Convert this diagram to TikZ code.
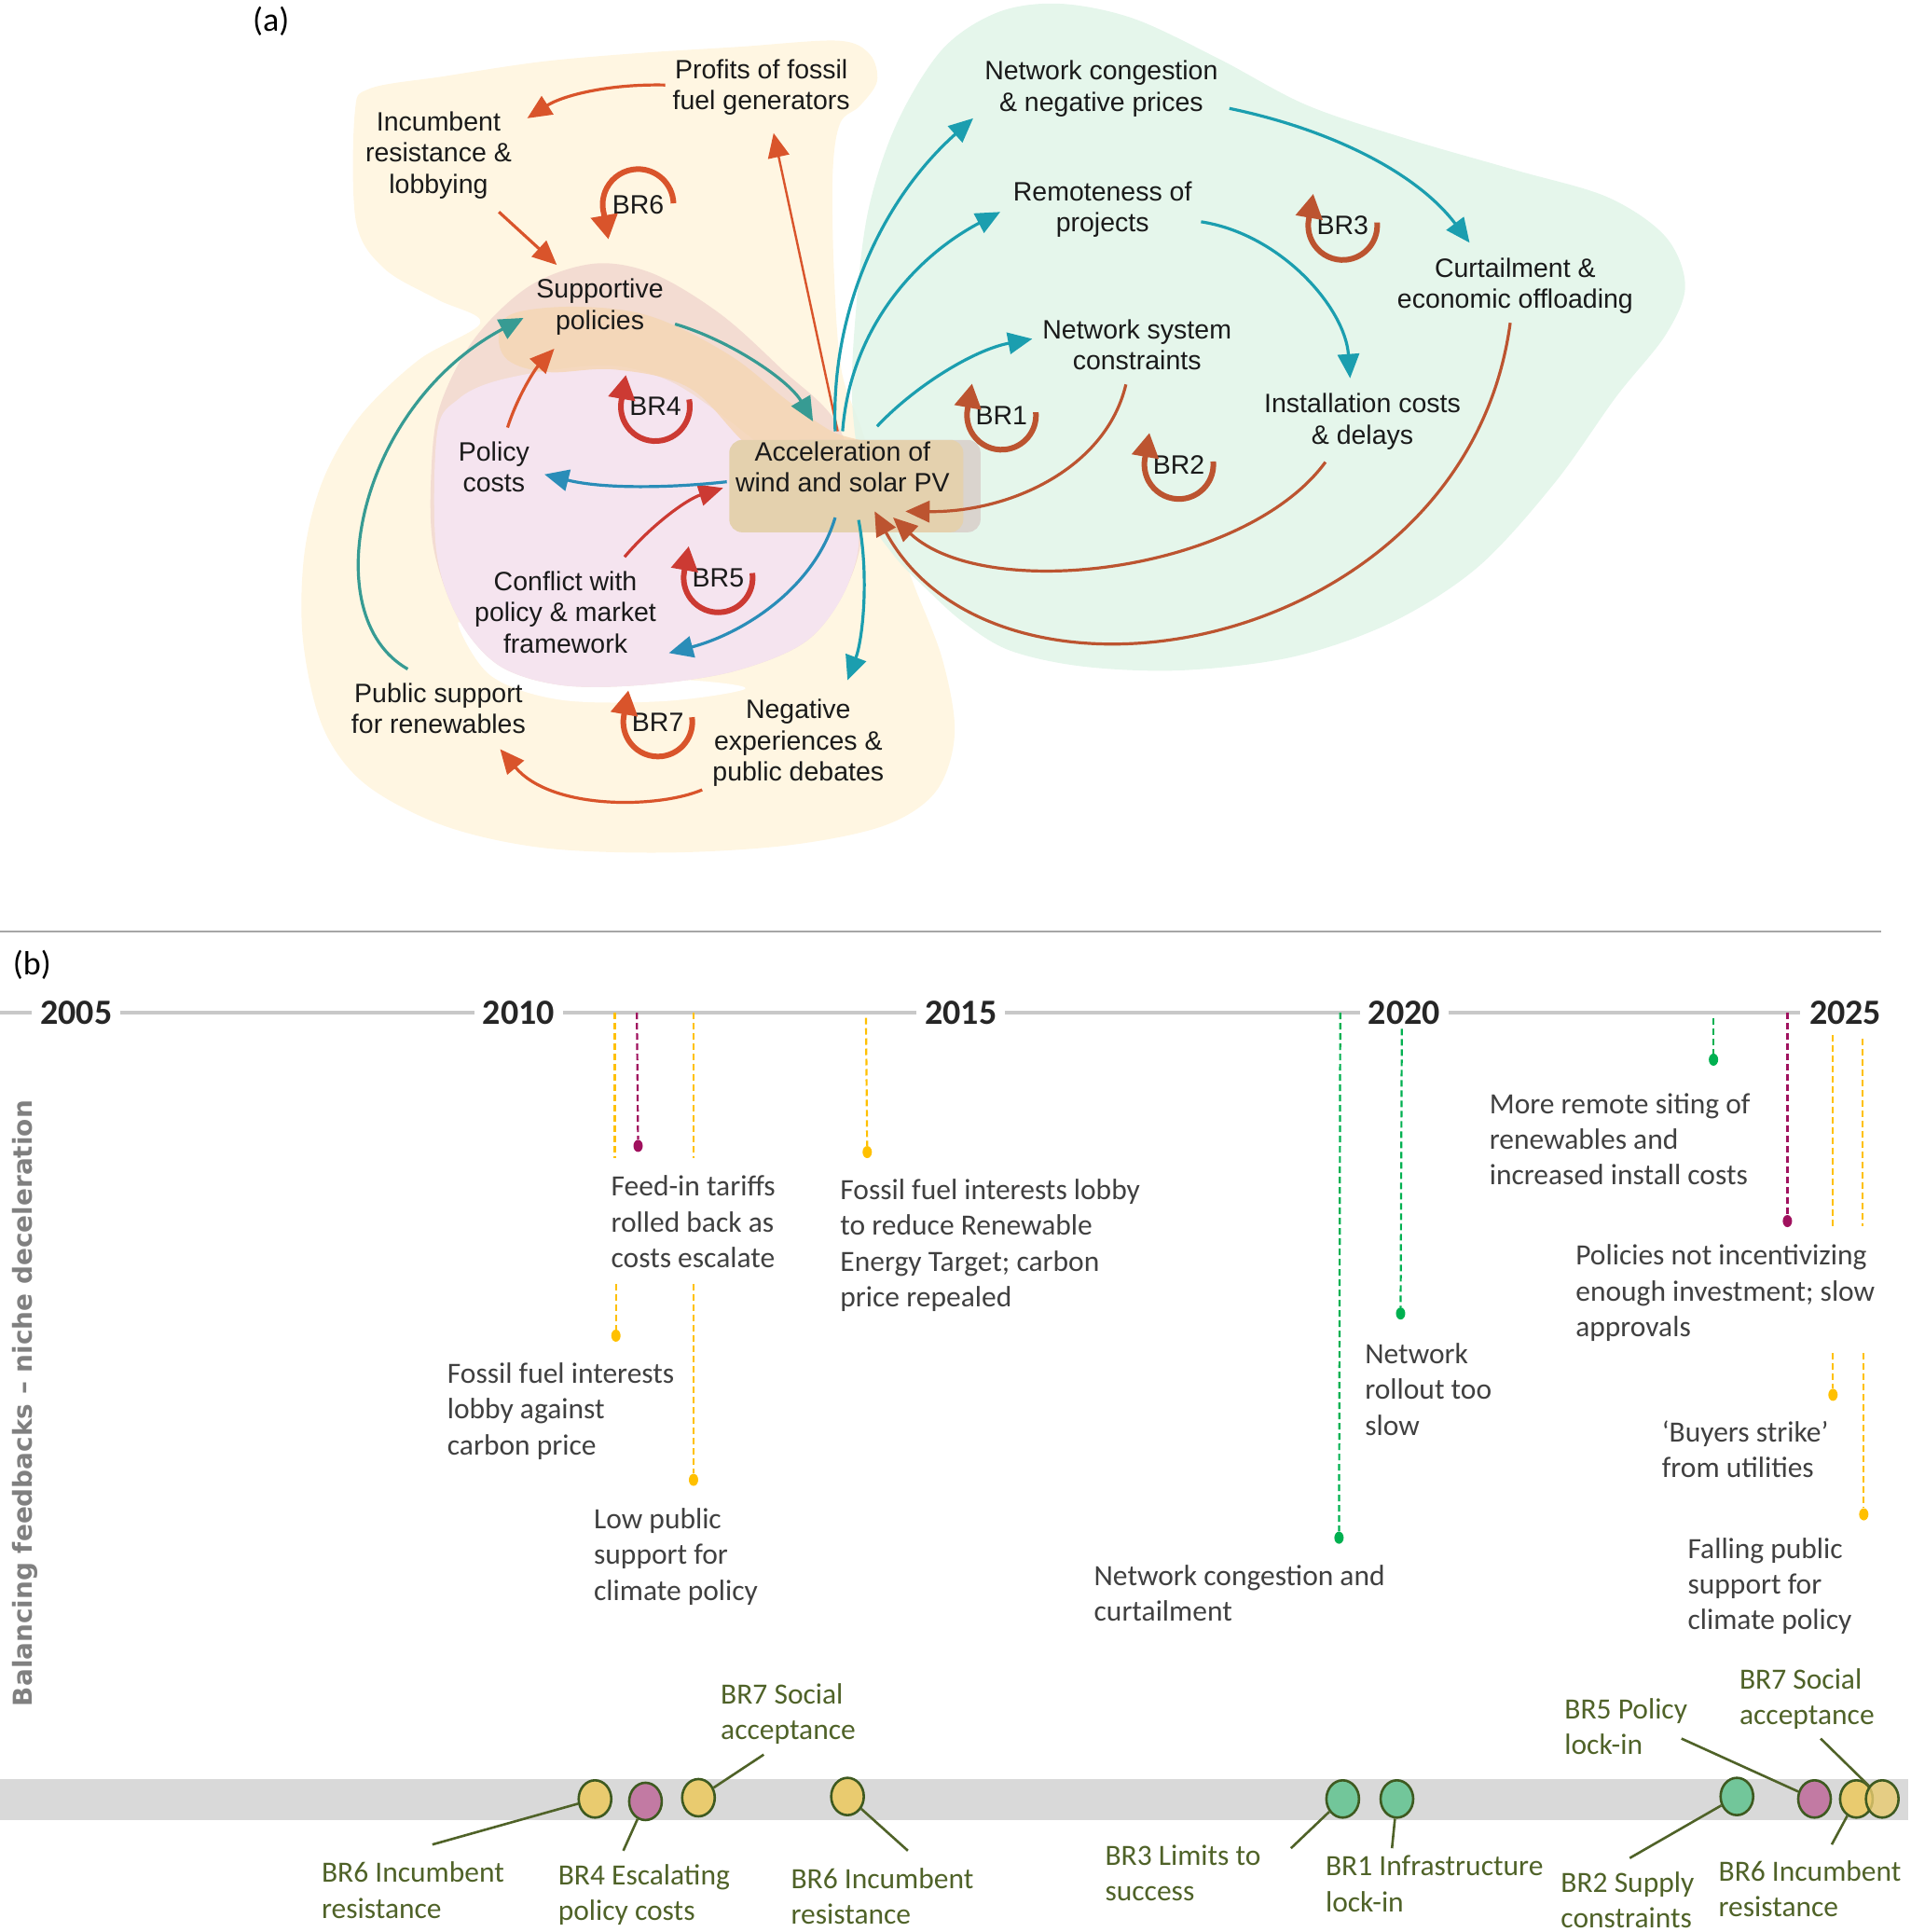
\documentclass[tikz,border=0pt]{standalone}
\usepackage{fontspec}
\usepackage{graphicx}
\setmainfont{Liberation Sans}
\newfontfamily\calfont{Carlito}
\newfontfamily\dejafont{DejaVu Sans}
\usetikzlibrary{arrows.meta,calc,shapes.geometric}
\definecolor{cream}{HTML}{FFF6E2}
\definecolor{mint}{HTML}{E0F4E8}
\definecolor{salmon}{HTML}{F3DCD2}
\definecolor{pinkbg}{HTML}{F5E4EF}
\definecolor{tanbg}{HTML}{F5D6B3}
\definecolor{accbg}{HTML}{E4D1AE}
\definecolor{accgray}{HTML}{DAD4CE}
\definecolor{redA}{HTML}{D9542B}
\definecolor{redL}{HTML}{CC3A33}
\definecolor{brownA}{HTML}{BC5430}
\definecolor{tealA}{HTML}{1B9EAF}
\definecolor{tealG}{HTML}{379B93}
\definecolor{blueA}{HTML}{2A8DB8}
\definecolor{txA}{HTML}{1A1A1A}
\definecolor{gold}{HTML}{FFC000}
\definecolor{plum}{HTML}{A0115E}
\definecolor{grn}{HTML}{00B050}
\definecolor{txt}{HTML}{404040}
\definecolor{yr}{HTML}{262626}
\definecolor{lab}{HTML}{4F6228}
\definecolor{bubline}{HTML}{3E5A20}
\definecolor{cY}{HTML}{E9CB6F}
\definecolor{cP}{HTML}{C27AA3}
\definecolor{cG}{HTML}{72C69A}
\definecolor{band}{HTML}{D9D9D9}
\definecolor{axisgray}{HTML}{C8C8C8}
\definecolor{sepgray}{HTML}{A6A6A6}
\definecolor{ylabgray}{HTML}{808080}
\begin{document}
\begin{tikzpicture}[x=1.3217pt,y=-1.3217pt,
  lblA/.style={font=\fontsize{28.5}{33.5}\selectfont, align=center, inner sep=0pt, text=txA},
  lp/.style={font=\fontsize{28.5}{33.5}\selectfont, inner sep=0pt, text=txA},
  conn/.style={line width=3.2pt, -{Triangle[length=26pt,width=23pt]}},
  thinconn/.style={line width=2.4pt, -{Triangle[length=26pt,width=23pt]}},
  loopar/.style={line width=6pt, -{Triangle[length=26pt,width=28pt]}},
  evt/.style={font=\calfont\fontsize{31.5}{38.3}\selectfont, text=txt, align=left, anchor=north west, inner sep=0pt},
  brlab/.style={evt, text=lab},
  yearlab/.style={font=\calfont\bfseries\fontsize{38}{40}\selectfont, text=yr, fill=white, inner xsep=9pt, inner ysep=3pt},
  dsh/.style={dash pattern=on 7pt off 4pt, line width=2.2pt},
  dotnode/.style={ellipse, minimum width=10pt, minimum height=13pt, inner sep=0pt},
  bub/.style={ellipse, draw=bubline, line width=2.6pt, minimum width=35pt, minimum height=40pt, inner sep=0pt},
  callout/.style={draw=lab, line width=2.6pt}]
\useasboundingbox (0,0) rectangle (1551,1568);

% ---------- backgrounds of (a)
\fill[cream] plot[smooth cycle, tension=0.55] coordinates {
 (288,92) (300,72) (360,62) (440,50) (520,43) (600,38) (680,33) (706,44) (712,66) (698,86)
 (682,100) (676,140) (677,220) (683,300) (700,350) (722,420) (742,475) (765,535) (775,595)
 (760,642) (718,670) (640,686) (540,692) (440,688) (360,670) (296,636) (262,590) (246,520)
 (247,450) (262,390) (292,338) (340,292) (390,262) (355,243) (312,218) (289,180)};
\fill[mint, opacity=0.85] plot[smooth cycle, tension=0.55] coordinates {
 (692,330) (695,250) (705,170) (728,100) (765,40) (810,10) (860,3) (920,15) (990,48)
 (1060,85) (1140,112) (1230,138) (1305,160) (1352,192) (1368,232) (1352,272) (1312,322)
 (1262,392) (1200,460) (1130,505) (1050,533) (960,544) (880,541) (820,528) (782,505)
 (752,478) (725,450) (705,415)};
\fill[white] plot[smooth cycle, tension=0.55] coordinates {
 (372,505) (398,548) (455,568) (540,569) (605,559) (560,552) (470,550) (410,532)};
\fill[salmon] plot[smooth cycle, tension=0.55] coordinates {
 (357,330) (385,275) (430,232) (482,214) (530,222) (585,255) (635,300) (680,345) (700,420)
 (688,475) (655,520) (595,545) (520,556) (455,556) (405,540) (372,502) (352,445) (350,385)};
\fill[pinkbg] plot[smooth cycle, tension=0.55] coordinates {
 (355,350) (372,324) (400,310) (450,300) (500,297) (545,310) (590,340) (640,380) (694,425)
 (688,475) (655,520) (595,545) (520,556) (455,556) (405,540) (372,502) (354,445)};
\fill[tanbg, opacity=0.8] plot[smooth cycle, tension=0.6] coordinates {
 (418,254) (470,249) (529,257) (592,288) (639,325) (675,350) (705,362) (650,378) (608,362)
 (560,315) (500,300) (445,302) (412,292) (405,270)};
\fill[accgray, rounded corners=14pt] (640,357) rectangle (796,432);
\fill[accbg, rounded corners=14pt] (592,357) rectangle (782,432);

% ---------- nodes of (a)
\node[font=\calfont\fontsize{36}{40}\selectfont] (pa) at (220,17) {(a)};
\node[lblA] (prof) at (618,71) {Profits of fossil\\fuel generators};
\node[lblA] (inc) at (356,126) {Incumbent\\resistance \&\\lobbying};
\node[lblA] (sup) at (487,249) {Supportive\\policies};
\node[lblA] (pol) at (401,379) {Policy\\costs};
\node[lblA] (acc) at (684,379) {Acceleration of\\wind and solar PV};
\node[lblA] (conf) at (459,497) {Conflict with\\policy \& market\\framework};
\node[lblA] (pub) at (356,575) {Public support\\for renewables};
\node[lblA] (neg) at (648,603) {Negative\\experiences \&\\public debates};
\node[lblA] (ncong) at (894,72) {Network congestion\\ \& negative prices};
\node[lblA] (rem) at (895,170) {Remoteness of\\projects};
\node[lblA] (nsys) at (923,280) {Network system\\constraints};
\node[lblA] (curt) at (1230,232) {Curtailment \&\\economic offloading};
\node[lblA] (inst) at (1106,342) {Installation costs\\ \& delays};

% ---------- connectors of (a)
\draw[conn,redA] ($(prof)+(-78,-2)$) .. controls (492,68) and (456,78) .. ($(inc)+(72,-30)$);
\draw[conn,redA] ($(inc)+(49,46)$) -- ($(sup)+(-35,-34)$);
\draw[thinconn,redA] ($(acc)+(-4,-29)$) -- ($(prof)+(10,37)$);
\draw[conn,redA] ($(pol)+(11,-32)$) .. controls (420,322) and (434,300) .. ($(sup)+(-37,34)$);
\draw[conn,redL] ($(conf)+(48,-45)$) .. controls (530,425) and (558,405) .. ($(acc)+(-97,17)$);
\draw[conn,redA] ($(neg)+(-78,38)$) .. controls (535,656) and (448,658) .. ($(pub)+(50,33)$);
\draw[conn,brownA] ($(nsys)+(-9,32)$) .. controls (898,380) and (820,416) .. ($(acc)+(51,36)$);
\draw[conn,brownA] ($(inst)+(-30,33)$) .. controls (1010,465) and (800,490) .. ($(acc)+(41,41)$);
\draw[conn,brownA] ($(curt)+(-4,30)$) .. controls (1190,530) and (810,600) .. ($(acc)+(26,36)$);
\draw[conn,tealG] ($(pub)+(-25,-32)$) .. controls (255,500) and (290,330) .. ($(sup)+(-62,9)$);
\draw[conn,tealG] ($(sup)+(61,14)$) .. controls (592,276) and (640,308) .. ($(acc)+(-24,-37)$);
\draw[conn,blueA] ($(acc)+(-94,12)$) .. controls (545,396) and (490,397) .. ($(pol)+(41,6)$);
\draw[conn,blueA] ($(acc)+(-6,41)$) .. controls (660,480) and (600,515) .. ($(conf)+(84,33)$);
\draw[conn,tealA] ($(acc)+(13,43)$) .. controls (706,470) and (700,520) .. ($(neg)+(40,-51)$);
\draw[conn,tealA] ($(acc)+(-6,-29)$) .. controls (674,250) and (718,160) .. ($(ncong)+(-104,24)$);
\draw[conn,tealA] ($(acc)+(0,-29)$) .. controls (690,270) and (740,210) .. ($(rem)+(-83,2)$);
\draw[conn,tealA] ($(acc)+(28,-33)$) .. controls (742,314) and (790,284) .. ($(nsys)+(-85,-5)$);
\draw[conn,tealA] ($(ncong)+(104,16)$) .. controls (1080,105) and (1150,140) .. ($(curt)+(-37,-35)$);
\draw[conn,tealA] ($(rem)+(80,10)$) .. controls (1040,190) and (1092,250) .. ($(inst)+(-10,-35)$);

% ---------- loops
\node[lp] (l6) at (518,166) {BR6};
\draw[loopar,redA] ($(l6)+(2:38pt)$) arc[start angle=2, end angle=195, radius=38pt] -- ++(-80:28pt);
\node[lp] (l4) at (532,330) {BR4};
\draw[loopar,redL] ($(l4)+(12:37pt)$) arc[start angle=12, end angle=-190, radius=37pt] -- ++(80:28pt);
\node[lp] (l5) at (583,469) {BR5};
\draw[loopar,redL] ($(l5)+(8:37pt)$) arc[start angle=8, end angle=-190, radius=37pt] -- ++(80:28pt);
\node[lp] (l7) at (534,586) {BR7};
\draw[loopar,redA] ($(l7)+(8:37pt)$) arc[start angle=8, end angle=-190, radius=37pt] -- ++(80:28pt);
\node[lp] (l1) at (813,337) {BR1};
\draw[loopar,brownA] ($(l1)+(5:37pt)$) arc[start angle=5, end angle=-190, radius=37pt] -- ++(80:28pt);
\node[lp] (l2) at (957,377) {BR2};
\draw[loopar,brownA] ($(l2)+(5:37pt)$) arc[start angle=5, end angle=-190, radius=37pt] -- ++(80:28pt);
\node[lp] (l3) at (1090,183) {BR3};
\draw[loopar,brownA] ($(l3)+(5:37pt)$) arc[start angle=5, end angle=-190, radius=37pt] -- ++(80:28pt);

% ---------- part (b)
\draw[sepgray, line width=2.2pt] (0,756) -- (1527,756);
\node[font=\calfont\fontsize{36}{40}\selectfont] (pb) at (26,783) {(b)};
\draw[axisgray, line width=4pt] (0,822) -- (1461,822);

% events
\node[dotnode, fill=gold] (d1) at (500,1084) {};
\draw[dsh,gold] (499,822) -- (499,940);
\draw[dsh,gold] (500,1042) -- (d1);
\node[dotnode, fill=plum] (d2) at (518,930) {};
\draw[dsh,plum] (517,822) -- (d2);
\node[dotnode, fill=gold] (d3) at (563,1201) {};
\draw[dsh,gold] (563,822) -- (563,940);
\draw[dsh,gold] (563,1042) -- (d3);
\node[dotnode, fill=gold] (d4) at (704,935) {};
\draw[dsh,gold] (703,826) -- (d4);
\node[dotnode, fill=grn] (d5) at (1087,1248) {};
\draw[dsh,grn] (1088,822) -- (d5);
\node[dotnode, fill=grn] (d6) at (1137,1066) {};
\draw[dsh,grn] (1138,835) -- (d6);
\node[dotnode, fill=grn] (d7) at (1391,860) {};
\draw[dsh,grn] (1391,826) -- (d7);
\node[dotnode, fill=plum] (d8) at (1451,991) {};
\draw[dsh,plum] (1451,822) -- (d8);
\node[dotnode, fill=gold] (d9) at (1488,1132) {};
\draw[dsh,gold] (1488,840) -- (1488,995);
\draw[dsh,gold] (1488,1098) -- (d9);
\node[dotnode, fill=gold] (d10) at (1513,1229) {};
\draw[dsh,gold] (1512,843) -- (1512,995);
\draw[dsh,gold] (1513,1098) -- (d10);

% years
\node[yearlab] (y05) at (62,822) {2005};
\node[yearlab] (y10) at (421,822) {2010};
\node[yearlab] (y15) at (780,822) {2015};
\node[yearlab] (y20) at (1140,822) {2020};
\node[yearlab] (y25) at (1498,822) {2025};

% event texts
\node[evt] (t1) at (496,954) {Feed-in tariffs\\rolled back as\\costs escalate};
\node[evt] (t2) at (363,1106) {Fossil fuel interests\\lobby against\\carbon price};
\node[evt] (t3) at (482,1224) {Low public\\support for\\climate policy};
\node[evt] (t4) at (682,957) {Fossil fuel interests lobby\\to reduce Renewable\\Energy Target; carbon\\price repealed};
\node[evt] (t5) at (888,1270) {Network congestion and\\curtailment};
\node[evt] (t6) at (1108,1090) {Network\\rollout too\\slow};
\node[evt] (t7) at (1209,887) {More remote siting of\\renewables and\\increased install costs};
\node[evt] (t8) at (1279,1010) {Policies not incentivizing\\enough investment; slow\\approvals};
\node[evt] (t9) at (1349,1153) {‘Buyers strike’\\from utilities};
\node[evt] (t10) at (1370,1248) {Falling public\\support for\\climate policy};

% rotated label
\node[rotate=90, text=ylabgray, font=\dejafont\bfseries, inner sep=0pt] (ylab) at (20,1139)
  {\resizebox{650pt}{!}{Balancing feedbacks – niche deceleration}};

% band and bubbles
\fill[band] (0,1444) rectangle (1549,1477);
\node[bub, fill=cY] (b1) at (483,1460) {};
\node[bub, fill=cP] (b2) at (524,1462) {};
\node[bub, fill=cY] (b3) at (567,1459) {};
\node[bub, fill=cY] (b4) at (688,1458) {};
\node[bub, fill=cG] (b5) at (1090,1460) {};
\node[bub, fill=cG] (b6) at (1134,1460) {};
\node[bub, fill=cG] (b7) at (1410,1458) {};
\node[bub, fill=cP] (b8) at (1473,1460) {};
\node[bub, fill=cY] (b9) at (1507,1460) {};
\node[bub, fill=cY, fill opacity=0.8] (b10) at (1528,1460) {};

% labels
\node[brlab] (L1) at (261,1511) {BR6 Incumbent\\resistance};
\node[brlab] (L2) at (453,1513) {BR4 Escalating\\policy costs};
\node[brlab] (L3) at (585,1366) {BR7 Social\\acceptance};
\node[brlab] (L4) at (642,1516) {BR6 Incumbent\\resistance};
\node[brlab] (L5) at (897,1497) {BR3 Limits to\\success};
\node[brlab] (L6) at (1076,1506) {BR1 Infrastructure\\lock-in};
\node[brlab] (L7) at (1267,1519) {BR2 Supply\\constraints};
\node[brlab] (L8) at (1270,1378) {BR5 Policy\\lock-in};
\node[brlab] (L9) at (1412,1354) {BR7 Social\\acceptance};
\node[brlab] (L10) at (1395,1510) {BR6 Incumbent\\resistance};

\draw[callout] ($(L1.north west)+(90,-14)$) -- (b1);
\draw[callout] ($(L2.north west)+(53,-11)$) -- (b2);
\draw[callout] ($(L3.north west)+(35,58)$) -- (b3);
\draw[callout] ($(L4.north west)+(95,-14)$) -- (b4);
\draw[callout] ($(L5.north west)+(151,3)$) -- (b5);
\draw[callout] ($(L6.north west)+(54,-6)$) -- (b6);
\draw[callout] ($(L7.north west)+(56,-11)$) -- (b7);
\draw[callout] ($(L8.north west)+(95,33)$) -- (b8);
\draw[callout] ($(L9.north west)+(66,57)$) -- (b10);
\draw[callout] ($(L10.north west)+(92,-13)$) -- (b9);
\end{tikzpicture}
\end{document}
